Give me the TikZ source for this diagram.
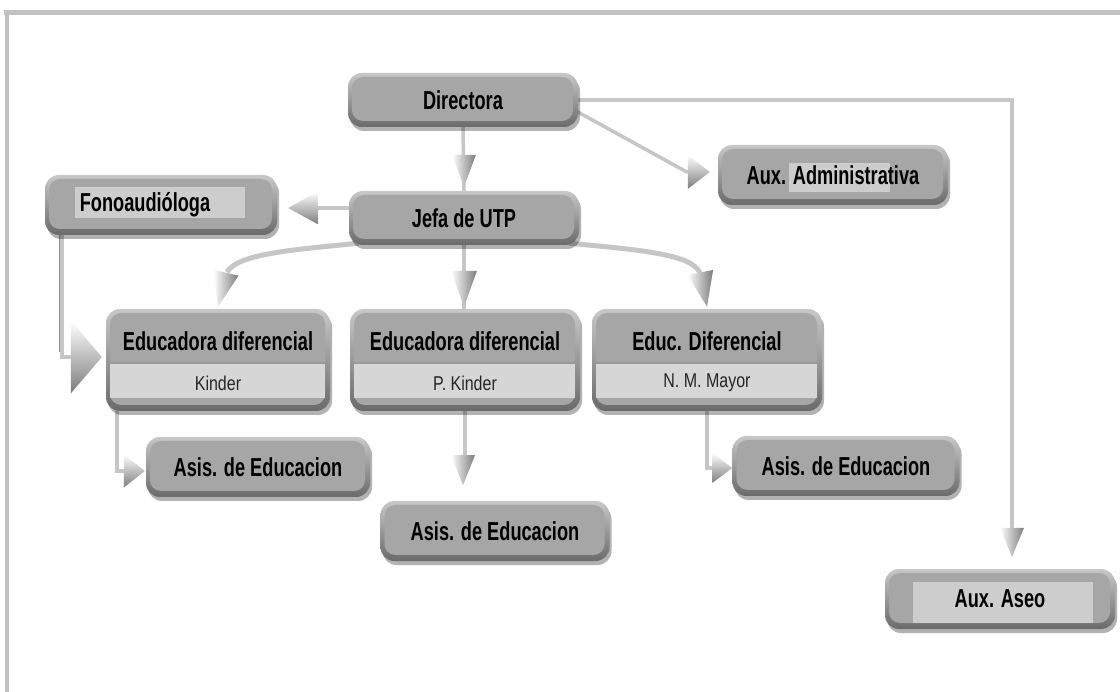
\documentclass[tikz,border=0pt]{standalone}
\usepackage{fontspec}
\setmainfont{Liberation Sans}
\newfontfamily\titlefont{Liberation Sans}[FakeStretch=0.7,UprightFont=* Bold]
\newfontfamily\subfont{Liberation Sans}[FakeStretch=0.8]
\usetikzlibrary{shadows,calc}
\definecolor{facegray}{HTML}{A6A6A6}
\definecolor{rimtop}{HTML}{C8C8C8}
\definecolor{rimbot}{HTML}{6A6A6A}
\definecolor{innerlight}{HTML}{CDCDCD}
\definecolor{bandlight}{HTML}{D6D6D6}
\definecolor{linkgray}{HTML}{C6C6C6}
\definecolor{linkedge}{HTML}{8E8E8E}
\definecolor{framegray}{HTML}{C2C2C2}
\definecolor{tipdark}{HTML}{7C7C7C}
\pgfdeclarelayer{bg}
\pgfsetlayers{bg,main}
\newcommand\drawface{\fill[facegray, rounded corners=11pt]
  ([shift={(4pt,6pt)}]path picture bounding box.south west) rectangle
  ([shift={(-5pt,-4pt)}]path picture bounding box.north east);}
\tikzset{
  boxbase/.style={rounded corners=14pt, top color=rimtop, bottom color=rimbot, draw=none,
    inner sep=0pt, text=black, font=\titlefont\fontsize{26}{28}\selectfont,
    drop shadow={shadow xshift=2pt, shadow yshift=-4pt, fill=black, opacity=0.3}},
  box/.style={boxbase, path picture={\drawface}},
  hlbox/.style args={#1/#2/#3/#4}{boxbase, path picture={\drawface
     \fill[innerlight, sharp corners] ([shift={(#1pt,#2pt)}]path picture bounding box.center) rectangle
       ([shift={(#3pt,#4pt)}]path picture bounding box.center);}},
  edbox/.style={boxbase, minimum width=224pt, minimum height=102pt,
    path picture={\drawface
     \fill[bandlight, sharp corners] ([shift={(4pt,13pt)}]path picture bounding box.south west) rectangle
       ([shift={(-5pt,48pt)}]path picture bounding box.south east);
     \draw[black!40, line width=1.2pt, sharp corners] ([shift={(4pt,48pt)}]path picture bounding box.south west) --
       ([shift={(-5pt,48pt)}]path picture bounding box.south east);}},
  edtitle/.style={inner sep=0pt, text=black, font=\titlefont\fontsize{26}{28}\selectfont},
  edsub/.style={inner sep=0pt, text=black!85, font=\subfont\fontsize{20}{22}\selectfont},
  link/.style={draw=linkgray, line width=3.5pt},
  curvelink/.style={draw=linkgray, line width=5pt},
  pics/tipd/.style args={#1/#2}{code={\shade[left color=white, right color=tipdark]
     (-#2/2,#1) -- (#2/2,#1) -- (0,0) -- cycle;}},
  pics/tipr/.style args={#1/#2}{code={\shade[top color=white, bottom color=tipdark]
     (-#1,#2/2) -- (-#1,-#2/2) -- (0,0) -- cycle;}},
  pics/tipl/.style args={#1/#2}{code={\shade[top color=white, bottom color=tipdark]
     (#1,#2/2) -- (#1,-#2/2) -- (0,0) -- cycle;}},
}
\begin{document}
\begin{tikzpicture}[x=1pt,y=1pt]
\useasboundingbox (0,0) rectangle (1120,-692);
\begin{pgfonlayer}{bg}
\fill[white] (0,0) rectangle (1120,-692);
\end{pgfonlayer}
\draw[framegray, line width=4.5pt] (4,-12.5) -- (1120,-12.5);
\draw[framegray, line width=4pt] (7,-12.5) -- (7,-692);

% nodes
\node[box, minimum width=230pt, minimum height=54pt] (dir) at (463,-100) {Directora};
\node[box, minimum width=230pt, minimum height=54pt] (jefa) at (464,-218) {Jefa de UTP};
\node[hlbox={-86/18/84/-13}, minimum width=232pt, minimum height=60pt] (fono) at (161,-205) {\hspace*{-32pt}Fonoaudióloga};
\node[hlbox={-44/12/57/-17}, minimum width=230pt, minimum height=60pt] (admin) at (833,-175) {Aux. Administrativa};

\node[edbox] (k1) at (218,-360) {};
\node[edtitle] (k1t) at ($(k1.center)+(0,19)$) {Educadora diferencial};
\node[edsub] (k1s) at ($(k1.center)+(0,-23)$) {Kinder};

\node[edbox, minimum width=230pt] (pk) at (465,-360) {};
\node[edtitle] (pkt) at ($(pk.center)+(0,19)$) {Educadora diferencial};
\node[edsub] (pks) at ($(pk.center)+(0,-23)$) {P. Kinder};

\node[edbox, minimum width=230pt] (nm) at (707,-360) {};
\node[edtitle] (nmt) at ($(nm.center)+(0,19)$) {Educ. Diferencial};
\node[edsub] (nms) at ($(nm.center)+(0,-23)$) {N. M. Mayor};

\node[box, minimum width=224pt, minimum height=60pt] (a1) at (258,-467) {Asis. de Educacion};
\node[box, minimum width=229pt, minimum height=60pt] (a2) at (495,-531) {Asis. de Educacion};
\node[box, minimum width=227pt, minimum height=60pt] (a3) at (846,-466) {Asis. de Educacion};
\node[hlbox={-87/17/93/-24}, minimum width=230pt, minimum height=60pt] (aseo) at (1000,-599) {Aux. Aseo};

% connectors
\begin{pgfonlayer}{bg}
\draw[link] (dir.south) -- (jefa.north);
\draw[link] ($(dir.east)+(-4,-10)$) -- ($(admin.west)+(-31,3)$) -- ($(admin.west)+(-28,3)$);
\draw[link] (dir.east) -| ($(aseo.north)+(12,30)$);
\draw[link] ($(jefa.west)+(0,10)$) -- ($(fono.east)+(40,-3)$);
\draw[curvelink] ($(jefa.south west)+(10,2)$) .. controls (290,-250) and (238,-254) .. (227,-272);
\draw[curvelink] ($(jefa.south east)+(-10,2)$) .. controls (640,-250) and (692,-254) .. (700,-273);
\draw[link] (jefa.south) -- (jefa.south |- pk.north);
\draw[link] ($(fono.south west)+(17,2)$) |- ($(k1.west)+(-30,3)$);
\draw[linkedge, line width=1pt] ($(fono.south west)+(15,2)$) -- ($(fono.south west)+(15,-117)$);
\draw[link] ($(k1.south west)+(11,0)$) |- ($(a1.west)+(-20,-4)$);
\draw[link] (pk.south) -- ($(pk.south)+(0,-46)$);
\draw[link] (nm.south) |- ($(a3.west)+(-18,-2)$);
\end{pgfonlayer}

% arrow tips
\pic at ($(jefa.north)+(0,4)$) {tipd=32/24};
\pic at ($(admin.west)+(-8,3)$) {tipr=22/34};
\pic at ($(aseo.north)+(12,12)$) {tipd=29/24};
\pic at ($(fono.east)+(11,-3)$) {tipl=30/33};
\pic[rotate=-13] at ($(k1.north)+(0,2)$) {tipd=35/26};
\pic at ($(jefa.south |- pk.north)+(0,2)$) {tipd=36/26};
\pic[rotate=11] at ($(nm.north)+(0,2)$) {tipd=35/26};
\pic at ($(k1.west)+(-4,3)$) {tipr=31/73};
\pic at ($(a1.west)+(-1,-4)$) {tipr=21/33};
\pic at ($(pk.south)+(-2,-74)$) {tipd=30/24};
\pic at ($(a3.west)+(0,-2)$) {tipr=20/30};
\end{tikzpicture}
\end{document}
